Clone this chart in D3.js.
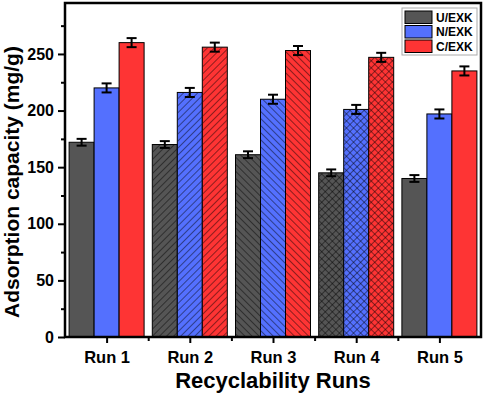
<!DOCTYPE html>
<html>
<head>
<meta charset="utf-8">
<script src="https://cdn.jsdelivr.net/npm/d3@7"></script>
<style>
  body { margin: 0; background: #fff; }
  svg { font-family: Arial, "Liberation Sans", sans-serif; font-weight: bold; }
</style>
</head>
<body>
<script>
let width = 484,
    height = 395;

// data
let runs = ["Run 1", "Run 2", "Run 3", "Run 4", "Run 5"];
let seriesNames = ["U/EXK", "N/EXK", "C/EXK"];
let uValues = [172, 170, 161, 145, 140];
let nValues = [220, 216, 210, 201, 197];
let cValues = [260, 256, 253, 247, 235];
let uErrors = [3, 3, 3, 3, 3];
let nErrors = [4, 4, 4, 4, 4];
let cErrors = [4, 4, 4, 4, 4];
let patterns = ["none", "fwd", "back", "cross", "none"];
let yTicks = [0, 50, 100, 150, 200, 250];

let colors = ["#555555", "#5470fe", "#fe3434"];
let values = [uValues, nValues, cValues];
let errors = [uErrors, nErrors, cErrors];

let margin = {left: 65, right: 3, top: 3, bottom: 58};

let svg = d3.select("body")
            .append("svg")
            .attr("width", width)
            .attr("height", height);

// hatch patterns
let defs = svg.append("defs");
function addPattern(id, angle, cross) {
  let p = defs.append("pattern")
      .attr("id", id)
      .attr("patternUnits", "userSpaceOnUse")
      .attr("width", 5).attr("height", 5)
      .attr("patternTransform", "rotate(" + angle + ")");
  p.append("line").attr("x1", 0).attr("y1", 0).attr("x2", 0).attr("y2", 5)
      .attr("stroke", "#000").attr("stroke-width", 0.9);
  if (cross) {
    p.append("line").attr("x1", 0).attr("y1", 0).attr("x2", 5).attr("y2", 0)
        .attr("stroke", "#000").attr("stroke-width", 0.9);
  }
}
addPattern("fwd", 45, false);
addPattern("back", -45, false);
addPattern("cross", 45, true);

let xScale = d3.scaleLinear()
    .domain([0.5, 5.5])
    .range([margin.left, width - margin.right]);

let yScale = d3.scaleLinear()
    .domain([0, 295])
    .range([height - margin.bottom, margin.top]);

let barW = 25;

// bars
let table = [];
runs.forEach(function(r, i) {
  seriesNames.forEach(function(s, j) {
    table.push({run: i, series: j, value: values[j][i], err: errors[j][i]});
  });
});

let bars = svg.append("g").selectAll("g")
    .data(table)
    .enter()
    .append("g");

bars.append("rect")
    .attr("x", function(d) { return xScale(d.run + 1) - 1.5 * barW + d.series * barW; })
    .attr("y", function(d) { return yScale(d.value); })
    .attr("width", barW)
    .attr("height", function(d) { return yScale(0) - yScale(d.value); })
    .attr("fill", function(d) { return colors[d.series]; })
    .attr("stroke", "#000")
    .attr("stroke-width", 1);

bars.filter(function(d) { return patterns[d.run] !== "none"; })
    .append("rect")
    .attr("x", function(d) { return xScale(d.run + 1) - 1.5 * barW + d.series * barW + 0.5; })
    .attr("y", function(d) { return yScale(d.value) + 0.5; })
    .attr("width", barW - 1)
    .attr("height", function(d) { return yScale(0) - yScale(d.value) - 1; })
    .attr("fill", function(d) { return "url(#" + patterns[d.run] + ")"; });

// error bars
let errG = bars.append("g")
    .attr("stroke", "#000")
    .attr("stroke-width", 2);
function cx(d) { return xScale(d.run + 1) - barW + d.series * barW; }
errG.append("line")
    .attr("x1", cx).attr("x2", cx)
    .attr("y1", function(d) { return yScale(d.value + d.err); })
    .attr("y2", function(d) { return yScale(d.value - d.err); });
errG.append("line")
    .attr("x1", function(d) { return cx(d) - 5; })
    .attr("x2", function(d) { return cx(d) + 5; })
    .attr("y1", function(d) { return yScale(d.value + d.err); })
    .attr("y2", function(d) { return yScale(d.value + d.err); });
errG.append("line")
    .attr("x1", function(d) { return cx(d) - 5; })
    .attr("x2", function(d) { return cx(d) + 5; })
    .attr("y1", function(d) { return yScale(d.value - d.err); })
    .attr("y2", function(d) { return yScale(d.value - d.err); });

// frame
svg.append("rect")
    .attr("x", margin.left)
    .attr("y", margin.top)
    .attr("width", width - margin.right - margin.left)
    .attr("height", height - margin.bottom - margin.top)
    .attr("fill", "none")
    .attr("stroke", "#000")
    .attr("stroke-width", 2.5);

// y axis
let yAxis = svg.append("g")
    .attr("transform", "translate(" + margin.left + ",0)")
    .call(d3.axisLeft(yScale).tickValues(yTicks).tickSize(7).tickPadding(4));
yAxis.select(".domain").remove();
yAxis.selectAll(".tick line").attr("stroke-width", 2);
yAxis.selectAll("text").attr("font-size", 16).attr("font-weight", "bold")
    .attr("font-family", "Arial, 'Liberation Sans', sans-serif").attr("fill", "#000");

let yMinor = svg.append("g")
    .attr("transform", "translate(" + margin.left + ",0)")
    .call(d3.axisLeft(yScale).tickValues([25, 75, 125, 175, 225, 275]).tickSize(4).tickFormat(""));
yMinor.select(".domain").remove();
yMinor.selectAll(".tick line").attr("stroke-width", 2);

// x axis
let xAxis = svg.append("g")
    .attr("transform", "translate(0," + yScale(0) + ")")
    .call(d3.axisBottom(xScale).tickValues([1, 2, 3, 4, 5])
      .tickFormat(function(d) { return runs[d - 1]; }).tickSize(6).tickPadding(8));
xAxis.select(".domain").remove();
xAxis.selectAll(".tick line").attr("stroke-width", 2);
xAxis.selectAll("text").attr("font-size", 16.5).attr("font-weight", "bold")
    .attr("font-family", "Arial, 'Liberation Sans', sans-serif").attr("fill", "#000");

let xMinor = svg.append("g")
    .attr("transform", "translate(0," + yScale(0) + ")")
    .call(d3.axisBottom(xScale).tickValues([1.5, 2.5, 3.5, 4.5]).tickSize(4).tickFormat(""));
xMinor.select(".domain").remove();
xMinor.selectAll(".tick line").attr("stroke-width", 2);

// axis titles
svg.append("text")
    .attr("x", (margin.left + width - margin.right) / 2)
    .attr("y", 388)
    .attr("text-anchor", "middle")
    .attr("font-size", 22)
    .text("Recyclability Runs");

svg.append("text")
    .attr("transform", "translate(19,182) rotate(-90)")
    .attr("text-anchor", "middle")
    .attr("font-size", 21)
    .text("Adsorption capacity (mg/g)");

// legend
let legend = svg.append("g").attr("transform", "translate(402,8)");
legend.append("rect")
    .attr("width", 75).attr("height", 47)
    .attr("fill", "#fff")
    .attr("stroke", "#aaa")
    .attr("stroke-width", 1);
let items = legend.selectAll(".item")
    .data(seriesNames)
    .enter()
    .append("g")
    .attr("transform", function(d, i) { return "translate(3," + (3 + i * 14.5) + ")"; });
items.append("rect")
    .attr("width", 27).attr("height", 12.5)
    .attr("fill", function(d, i) { return colors[i]; })
    .attr("stroke", "#000")
    .attr("stroke-width", 1);
items.append("text")
    .attr("x", 31).attr("y", 10.5)
    .attr("font-size", 12)
    .text(function(d) { return d; });
</script>
</body>
</html>
